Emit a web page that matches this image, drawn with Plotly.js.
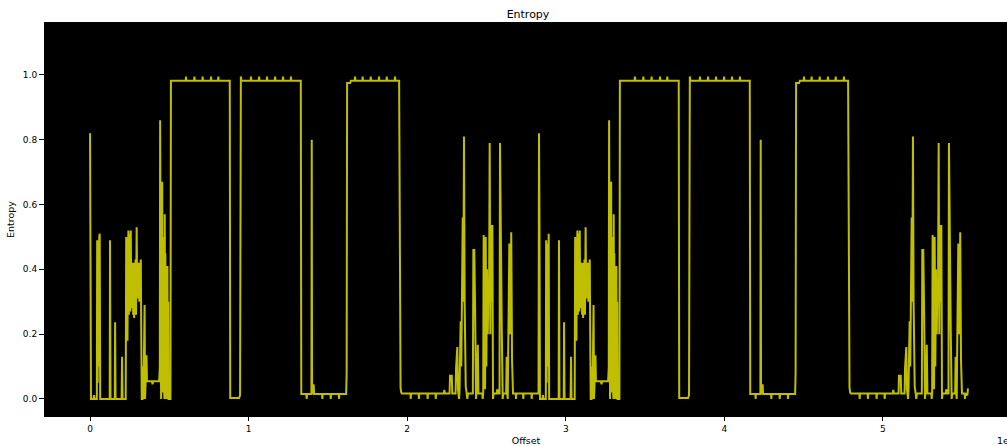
<!DOCTYPE html>
<html>
<head>
<meta charset="utf-8">
<script src="https://cdn.plot.ly/plotly-3.0.1.min.js"></script>
<style>html,body{margin:0;padding:0;background:#fff;}#chart{width:1007px;height:446px;}</style>
</head>
<body>
<div id="chart"></div>
<script>
// Offsets in units of 1e6 bytes, entropy values
const offsetsA = [
  0.000,0.003,0.006,0.022,0.025,0.028,0.043,0.045,0.048,0.051,0.054,0.058,0.061,0.064,
  0.124,0.126,0.129,0.156,0.158,0.161,0.199,0.202,0.205,
  0.225,0.228,0.231,0.234,0.236,0.239,0.242,0.245,0.248,0.251,0.254,0.257,0.260,0.263,0.266,0.269,
  0.272,0.275,0.278,0.281,0.284,0.287,0.290,0.294,0.297,0.300,0.304,0.308,0.311,0.315,0.320,0.323,
  0.326,0.331,0.334,0.337,0.341,0.344,0.347,0.350,0.353,0.356,0.359,0.390,0.394,0.398,
  0.436,0.440,0.442,0.444,0.446,0.448,0.450,0.452,0.455,0.457,0.459,0.461,0.463,0.465,0.467,0.469,
  0.471,0.473,0.475,0.477,0.479,0.481,0.484,0.486,0.488,0.490,0.493,0.495,0.507,0.510,
  0.603,0.605,0.607,0.656,0.658,0.660,0.708,0.710,0.712,0.761,0.763,0.765,0.807,0.809,0.811,
  0.881,0.884,0.940,0.946,0.951,0.955,
  1.013,1.015,1.017,1.064,1.066,1.068,1.114,1.116,1.118,1.165,1.167,1.169,1.215,1.217,1.219,1.265,1.267,1.269,
  1.329,1.332,1.364,1.366,1.368,1.396,1.398,1.400,1.404,1.407,1.410,1.413,
  1.463,1.465,1.467,1.516,1.518,1.520,1.568,1.570,1.572,1.615,1.618,1.621,1.640,1.645,
  1.669,1.671,1.673,1.717,1.719,1.721,1.768,1.770,1.772,1.820,1.822,1.824,1.869,1.871,1.873,1.921,1.923,1.925,
  1.949,1.951,1.952,1.954,1.958,1.962,1.966,
  2.020,2.022,2.024,2.072,2.074,2.076,2.127,2.129,2.131,2.178,2.180,2.182,
  2.231,2.234,2.237,2.267,2.270,2.281,2.284,2.305,2.308,2.316,2.320,2.327,2.330,2.337,2.341,2.350,2.354,2.358,2.362,
  2.369,2.375,2.379,2.383,2.414,2.417,2.423,2.428,2.431,2.434,2.440,2.445,2.449,
  2.474,2.476,2.479,2.482,2.485,2.488,2.491,2.495,2.499,2.503,2.508,2.512,2.516,2.520,2.524,2.528,2.533,2.537,2.541,2.545,
  2.565,2.568,2.572,2.582,2.585,2.590,2.596,2.602,2.606,2.624,2.627,2.631,2.634,2.637,2.644,2.650,2.656,2.661,2.667,
  2.684,2.686,2.688,2.730,2.732,2.734,2.783,2.785,2.787,2.828
];
const entropyA = [
  0.82,0.55,0.0,0.0,0.012,0.0,0.0,0.49,0.05,0.48,0.10,0.50,0.51,0.0,
  0.0,0.49,0.0,0.0,0.237,0.0,0.0,0.13,0.0,
  0.0,0.50,0.30,0.49,0.18,0.45,0.52,0.26,0.51,0.42,0.27,0.52,0.28,0.41,0.30,0.42,
  0.26,0.42,0.25,0.40,0.33,0.43,0.26,0.53,0.34,0.41,0.31,0.42,0.30,0.42,0.43,0.20,
  0.0,0.0,0.10,0.0,0.29,0.29,0.0,0.08,0.06,0.135,0.055,0.055,0.045,0.055,
  0.055,0.10,0.86,0.02,0.30,0.0,0.50,0.67,0.67,0.02,0.40,0.10,0.50,0.05,0.30,0.0,
  0.57,0.20,0.45,0.0,0.30,0.10,0.41,0.20,0.41,0.0,0.30,0.0,0.0,0.982,
  0.982,0.995,0.982,0.982,0.995,0.982,0.982,0.995,0.982,0.982,0.995,0.982,0.982,0.995,0.982,
  0.982,0.003,0.003,0.012,0.995,0.982,
  0.982,0.995,0.982,0.982,0.995,0.982,0.982,0.995,0.982,0.982,0.995,0.982,0.982,0.995,0.982,0.982,0.995,0.982,
  0.982,0.015,0.015,0.0,0.015,0.015,0.80,0.015,0.045,0.02,0.045,0.015,
  0.015,0.0,0.015,0.015,0.0,0.015,0.015,0.0,0.015,0.015,0.08,0.975,0.975,0.982,
  0.982,0.995,0.982,0.982,0.995,0.982,0.982,0.995,0.982,0.982,0.995,0.982,0.982,0.995,0.982,0.982,0.995,0.982,
  0.982,0.707,0.62,0.06,0.035,0.02,0.017,
  0.017,0.0,0.017,0.017,0.0,0.017,0.017,0.0,0.017,0.017,0.0,0.017,
  0.017,0.028,0.017,0.017,0.072,0.072,0.017,0.017,0.095,0.16,0.03,0.0,0.03,0.24,0.10,0.56,0.30,0.81,0.30,
  0.038,0.017,0.0,0.017,0.017,0.46,0.46,0.28,0.0,0.0,0.05,0.167,0.017,
  0.017,0.0,0.017,0.506,0.05,0.50,0.03,0.50,0.10,0.40,0.20,0.35,0.30,0.79,0.20,0.537,0.30,0.537,0.0,0.017,
  0.017,0.03,0.017,0.017,0.79,0.40,0.225,0.0,0.017,0.017,0.13,0.017,0.0,0.157,0.48,0.20,0.514,0.12,0.017,
  0.017,0.0,0.017,0.017,0.0,0.017,0.017,0.0,0.017,0.017
];
const offsetsB = [
  2.831,2.834,2.837,2.853,2.856,2.859,2.874,2.876,2.879,2.882,2.885,2.889,2.892,2.895,
  2.955,2.957,2.960,2.987,2.989,2.992,3.030,3.033,3.036,
  3.056,3.059,3.062,3.065,3.067,3.070,3.073,3.076,3.079,3.082,3.085,3.088,3.091,3.094,3.097,3.100,
  3.103,3.106,3.109,3.112,3.115,3.118,3.121,3.125,3.128,3.131,3.135,3.139,3.142,3.146,3.151,3.154,
  3.157,3.162,3.165,3.168,3.172,3.175,3.178,3.181,3.184,3.187,3.190,3.221,3.225,3.229,
  3.267,3.271,3.273,3.275,3.277,3.279,3.281,3.283,3.286,3.288,3.290,3.292,3.294,3.296,3.298,3.300,
  3.302,3.304,3.306,3.308,3.310,3.312,3.315,3.317,3.319,3.321,3.324,3.326,3.338,3.341,
  3.434,3.436,3.438,3.487,3.489,3.491,3.539,3.541,3.543,3.592,3.594,3.596,3.638,3.640,3.642,
  3.712,3.715,3.771,3.777,3.782,3.786,
  3.844,3.846,3.848,3.895,3.897,3.899,3.945,3.947,3.949,3.996,3.998,4.000,4.046,4.048,4.050,4.096,4.098,4.100,
  4.160,4.163,4.195,4.197,4.199,4.227,4.229,4.231,4.235,4.238,4.241,4.244,
  4.294,4.296,4.298,4.347,4.349,4.351,4.399,4.401,4.403,4.446,4.449,4.452,4.471,4.476,
  4.500,4.502,4.504,4.548,4.550,4.552,4.599,4.601,4.603,4.651,4.653,4.655,4.700,4.702,4.704,4.752,4.754,4.756,
  4.780,4.782,4.783,4.785,4.789,4.793,4.797,
  4.851,4.853,4.855,4.903,4.905,4.907,4.958,4.960,4.962,5.009,5.011,5.013,
  5.062,5.065,5.068,5.098,5.101,5.112,5.115,5.136,5.139,5.147,5.151,5.158,5.161,5.168,5.172,5.181,5.185,5.189,5.193,
  5.200,5.206,5.210,5.214,5.245,5.248,5.254,5.259,5.262,5.265,5.271,5.276,5.280,
  5.305,5.307,5.310,5.313,5.316,5.319,5.322,5.326,5.330,5.334,5.339,5.343,5.347,5.351,5.355,5.359,5.364,5.368,5.372,5.376,
  5.396,5.399,5.403,5.413,5.416,5.421,5.427,5.433,5.437,5.455,5.458,5.462,5.465,5.468,5.475,5.481,5.487,5.492,5.498,
  5.515,5.517,5.519,5.532,5.536
];
const entropyB = [
  0.82,0.55,0.0,0.0,0.012,0.0,0.0,0.49,0.05,0.48,0.10,0.50,0.51,0.0,
  0.0,0.49,0.0,0.0,0.237,0.0,0.0,0.13,0.0,
  0.0,0.50,0.30,0.49,0.18,0.45,0.52,0.26,0.51,0.42,0.27,0.52,0.28,0.41,0.30,0.42,
  0.26,0.42,0.25,0.40,0.33,0.43,0.26,0.53,0.34,0.41,0.31,0.42,0.30,0.42,0.43,0.20,
  0.0,0.0,0.10,0.0,0.29,0.29,0.0,0.08,0.06,0.135,0.055,0.055,0.045,0.055,
  0.055,0.10,0.86,0.02,0.30,0.0,0.50,0.67,0.67,0.02,0.40,0.10,0.50,0.05,0.30,0.0,
  0.57,0.20,0.45,0.0,0.30,0.10,0.41,0.20,0.41,0.0,0.30,0.0,0.0,0.982,
  0.982,0.995,0.982,0.982,0.995,0.982,0.982,0.995,0.982,0.982,0.995,0.982,0.982,0.995,0.982,
  0.982,0.003,0.003,0.012,0.995,0.982,
  0.982,0.995,0.982,0.982,0.995,0.982,0.982,0.995,0.982,0.982,0.995,0.982,0.982,0.995,0.982,0.982,0.995,0.982,
  0.982,0.015,0.015,0.0,0.015,0.015,0.80,0.015,0.045,0.02,0.045,0.015,
  0.015,0.0,0.015,0.015,0.0,0.015,0.015,0.0,0.015,0.015,0.08,0.975,0.975,0.982,
  0.982,0.995,0.982,0.982,0.995,0.982,0.982,0.995,0.982,0.982,0.995,0.982,0.982,0.995,0.982,0.982,0.995,0.982,
  0.982,0.707,0.62,0.06,0.035,0.02,0.017,
  0.017,0.0,0.017,0.017,0.0,0.017,0.017,0.0,0.017,0.017,0.0,0.017,
  0.017,0.028,0.017,0.017,0.072,0.072,0.017,0.017,0.095,0.16,0.03,0.0,0.03,0.24,0.10,0.56,0.30,0.81,0.30,
  0.038,0.017,0.0,0.017,0.017,0.46,0.46,0.28,0.0,0.0,0.05,0.167,0.017,
  0.017,0.0,0.017,0.506,0.05,0.50,0.03,0.50,0.10,0.40,0.20,0.35,0.30,0.79,0.20,0.537,0.30,0.537,0.0,0.017,
  0.017,0.03,0.017,0.017,0.79,0.40,0.225,0.0,0.017,0.017,0.13,0.017,0.0,0.157,0.48,0.20,0.514,0.12,0.017,
  0.017,0.0,0.017,0.012,0.033
];
const xTickVals = [0, 1, 2, 3, 4, 5];
const xTickText = ['0', '1', '2', '3', '4', '5'];
const yTickVals = [0.0, 0.2, 0.4, 0.6, 0.8, 1.0];
const yTickText = ['0.0', '0.2', '0.4', '0.6', '0.8', '1.0'];

const FONT = 'DejaVu Sans, sans-serif';
const trace = {
  x: offsetsA.concat(offsetsB),
  y: entropyA.concat(entropyB),
  type: 'scatter',
  mode: 'lines',
  line: {color: '#bfbf00', width: 2},
  hoverinfo: 'x+y'
};
const layout = {
  width: 1007, height: 446,
  margin: {l: 45, r: 0, t: 23, b: 30},
  paper_bgcolor: '#ffffff',
  plot_bgcolor: '#000000',
  showlegend: false,
  title: {text: 'Entropy', x: 528/1007, xref: 'container', xanchor: 'center', y: 1 - 14/446, yref: 'container', yanchor: 'middle', font: {family: FONT, size: 11, color: '#000'}},
  xaxis: {
    range: [-0.284, 5.782], tickmode: 'array', tickvals: xTickVals, ticktext: xTickText,
    ticks: 'outside', ticklen: 4, tickwidth: 1, tickcolor: '#000', showgrid: false, zeroline: false,
    showline: true, linecolor: '#000', mirror: true,
    tickfont: {family: FONT, size: 9, color: '#000'},
    title: {text: 'Offset', font: {family: FONT, size: 9.5, color: '#000'}, standoff: 4}
  },
  yaxis: {
    range: [-0.0525, 1.160], tickmode: 'array', tickvals: yTickVals, ticktext: yTickText,
    ticks: 'outside', ticklen: 5, tickwidth: 1, tickcolor: '#000', showgrid: false, zeroline: false,
    showline: true, linecolor: '#000', mirror: true,
    tickfont: {family: FONT, size: 9, color: '#000'},
    title: {text: 'Entropy', font: {family: FONT, size: 9.5, color: '#000'}, standoff: 6}
  },
  annotations: [{
    text: '1e6', xref: 'paper', yref: 'paper', x: (995 - 45) / 962, y: -24 / 393,
    xanchor: 'left', yanchor: 'middle', showarrow: false,
    font: {family: FONT, size: 9.5, color: '#000'}
  }]
};
Plotly.newPlot('chart', [trace], layout, {displayModeBar: false, staticPlot: true});
</script>
</body>
</html>
